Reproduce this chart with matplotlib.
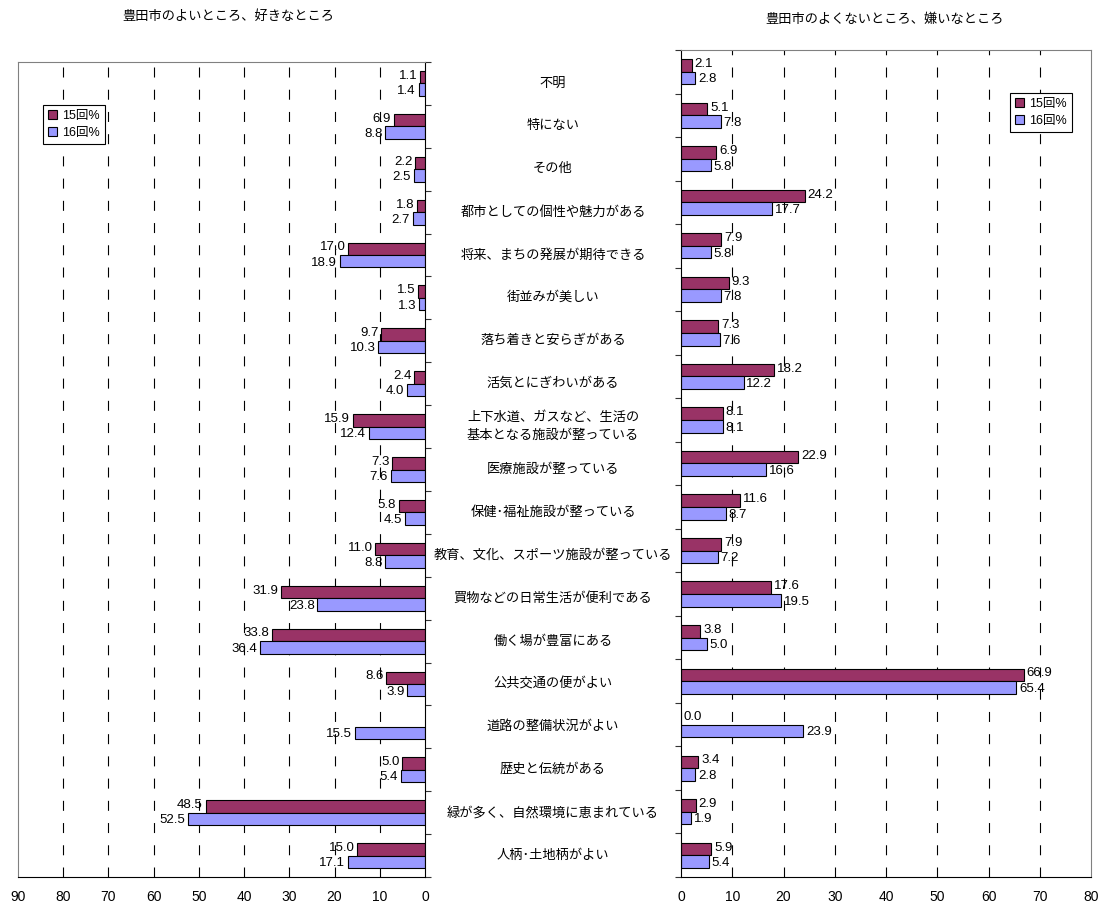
import numpy as np
import matplotlib
matplotlib.use("Agg")
import matplotlib.pyplot as plt
from matplotlib.transforms import blended_transform_factory

plt.rcParams['font.family'] = ['Liberation Sans', 'Noto Sans CJK JP', 'DejaVu Sans']

categories = [
    "不明", "特にない", "その他", "都市としての個性や魅力がある",
    "将来、まちの発展が期待できる", "街並みが美しい", "落ち着きと安らぎがある",
    "活気とにぎわいがある", "上下水道、ガスなど、生活の\n基本となる施設が整っている",
    "医療施設が整っている", "保健･福祉施設が整っている",
    "教育、文化、スポーツ施設が整っている", "買物などの日常生活が便利である",
    "働く場が豊富にある", "公共交通の便がよい", "道路の整備状況がよい",
    "歴史と伝統がある", "緑が多く、自然環境に恵まれている", "人柄･土地柄がよい",
]

# よいところ (left)
good_15 = [1.1, 6.9, 2.2, 1.8, 17.0, 1.5, 9.7, 2.4, 15.9, 7.3, 5.8, 11.0,
           31.9, 33.8, 8.6, np.nan, 5.0, 48.5, 15.0]
good_16 = [1.4, 8.8, 2.5, 2.7, 18.9, 1.3, 10.3, 4.0, 12.4, 7.6, 4.5, 8.8,
           23.8, 36.4, 3.9, 15.5, 5.4, 52.5, 17.1]

# よくないところ (right)
bad_15 = [2.1, 5.1, 6.9, 24.2, 7.9, 9.3, 7.3, 18.2, 8.1, 22.9, 11.6, 7.9,
          17.6, 3.8, 66.9, 0.0, 3.4, 2.9, 5.9]
bad_16 = [2.8, 7.8, 5.8, 17.7, 5.8, 7.8, 7.6, 12.2, 8.1, 16.6, 8.7, 7.2,
          19.5, 5.0, 65.4, 23.9, 2.8, 1.9, 5.4]

series_names = ["15回%", "16回%"]
c15 = "#993366"
c16 = "#9999FF"

fig = plt.figure(figsize=(10.99, 9.05), dpi=100)
axL = fig.add_axes([18 / 1099, 1 - 877 / 905, 407 / 1099, 815 / 905])
axR = fig.add_axes([681 / 1099, 1 - 877 / 905, 410 / 1099, 827 / 905])

y = np.arange(len(categories))
h = 0.29


def setup(ax, xlim, side):
    ax.set_xlim(*xlim)
    ax.set_ylim(len(categories) - 0.5, -0.5)
    ax.set_xticks(np.arange(0, max(xlim) + 1, 10))
    ax.tick_params(axis='x', length=0, pad=9, labelsize=10)
    ax.set_yticks(np.arange(len(categories) + 1) - 0.5)
    ax.set_yticklabels([])
    if side == "right":
        ax.yaxis.tick_right()
    ax.tick_params(axis='y', length=4, width=0.8, color='#333333')
    for x in range(10, int(max(xlim)), 10):
        ax.axvline(x, color='black', lw=0.8, dashes=(9, 11), zorder=0)
    for s in ax.spines.values():
        s.set_color('#808080')
        s.set_linewidth(0.8)
    ax.spines['bottom'].set_color('black')
    ax.spines[side].set_color('black')


setup(axL, (90, 0), "right")
setup(axR, (0, 80), "left")

axL.barh(y - h / 2, good_15, height=h, color=c15, edgecolor='black', lw=0.8, label=series_names[0])
axL.barh(y + h / 2, good_16, height=h, color=c16, edgecolor='black', lw=0.8, label=series_names[1])
axR.barh(y - h / 2, bad_15, height=h, color=c15, edgecolor='black', lw=0.8, label=series_names[0])
axR.barh(y + h / 2, bad_16, height=h, color=c16, edgecolor='black', lw=0.8, label=series_names[1])

for i in y:
    if not np.isnan(good_15[i]):
        axL.annotate(f"{good_15[i]:.1f}", (good_15[i], i - h / 2), xytext=(-2, 1),
                     textcoords='offset points', ha='right', va='center', fontsize=9.5)
    axL.annotate(f"{good_16[i]:.1f}", (good_16[i], i + h / 2), xytext=(-2, -1),
                 textcoords='offset points', ha='right', va='center', fontsize=9.5)
    axR.annotate(f"{bad_15[i]:.1f}", (bad_15[i], i - h / 2), xytext=(2, 1),
                 textcoords='offset points', ha='left', va='center', fontsize=9.5)
    axR.annotate(f"{bad_16[i]:.1f}", (bad_16[i], i + h / 2), xytext=(2, -1),
                 textcoords='offset points', ha='left', va='center', fontsize=9.5)

trans = blended_transform_factory(axL.transAxes, axL.transData)
for i, c in enumerate(categories):
    axL.text(1.3145, i, c, transform=trans, ha='center', va='center',
             fontsize=9.5, linespacing=1.5)

fig.text(228 / 1099, 1 - 17 / 905, "豊田市のよいところ、好きなところ", ha='center', va='center', fontsize=9.5)
fig.text(885 / 1099, 1 - 20 / 905, "豊田市のよくないところ、嫌いなところ", ha='center', va='center', fontsize=9.5)

legL = axL.legend(loc='upper left', bbox_to_anchor=(19 / 407, 1 - 37 / 815), fontsize=9,
                  fancybox=False, framealpha=1, edgecolor='black', handlelength=0.7,
                  handleheight=0.7, handletextpad=0.4, borderpad=0.4, labelspacing=0.4)
legR = axR.legend(loc='upper left', bbox_to_anchor=(323 / 410, 1 - 37 / 827), fontsize=9,
                  fancybox=False, framealpha=1, edgecolor='black', handlelength=0.7,
                  handleheight=0.7, handletextpad=0.4, borderpad=0.4, labelspacing=0.4)
for leg in (legL, legR):
    leg.get_frame().set_linewidth(0.8)

fig.savefig("out.png", dpi=100)
